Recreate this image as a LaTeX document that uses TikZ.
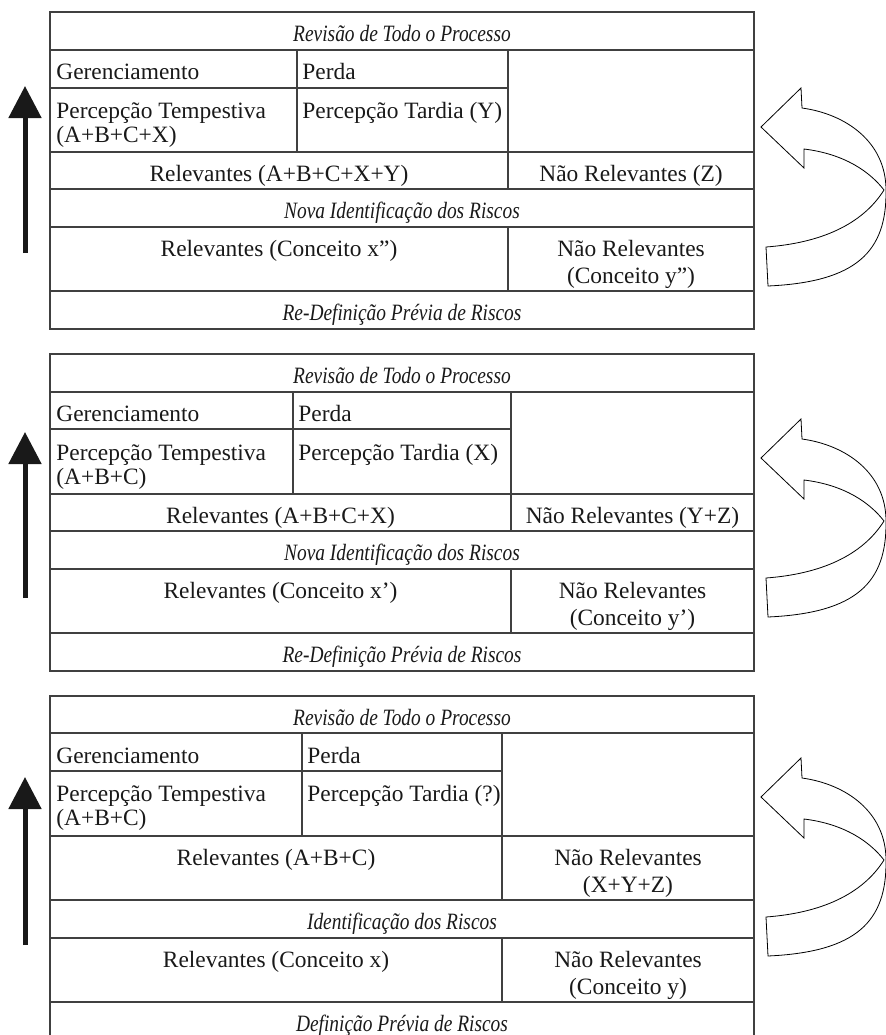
\documentclass[tikz,border=0pt]{standalone}
\usepackage{fontspec}
\setmainfont{Liberation Serif}
\newfontfamily\stagefont[FakeStretch=0.83]{Liberation Serif}
\usetikzlibrary{arrows.meta}

\begin{document}
\begin{tikzpicture}[x=0.5pt,y=-0.5pt,
  tabline/.style={draw=black!75, line width=0.55pt},
  lbl/.style={inner sep=0pt, text=black!90, font=\fontsize{11.7}{13.5}\selectfont},
  stage/.style={lbl, anchor=base, font=\fontsize{11.7}{13.5}\stagefont\itshape},
  cellL/.style={lbl, anchor=base west, align=left},
  cellC/.style={lbl, anchor=base, align=center},
  tight/.style={font=\fontsize{11.7}{12.2}\selectfont},
  riseup/.style={-{Triangle[length=16pt,width=16pt]}, line width=2.5pt, black!90},
  loopback/.style={draw=black, line width=0.4pt, fill=white, line join=miter},
  backarrow/.pic={
    \draw[loopback] (41,-19) -- (40,-39) -- (0,0) -- (43,41) -- (43,22)
      .. controls (84,27) and (109,45) .. (123,63)
      .. controls (101,98) and (59,116) .. (5,120) -- (7,159)
      .. controls (95,155) and (126,125) .. (125,63)
      .. controls (125,15) and (85,-13) .. (41,-19) -- cycle;
  }]
  \useasboundingbox (0,0) rectangle (886,1035);

  % stage 1 (base anchor of two-line cells sits on the second line)
  \draw[tabline] (50,12) rectangle (754,329);
  \draw[tabline] (50,50) -- (754,50);
  \draw[tabline] (50,88) -- (508,88);
  \draw[tabline] (50,152) -- (754,152);
  \draw[tabline] (50,189) -- (754,189);
  \draw[tabline] (50,227) -- (754,227);
  \draw[tabline] (50,291) -- (754,291);
  \draw[tabline] (297,50) -- (297,152);
  \draw[tabline] (508,50) -- (508,189);
  \draw[tabline] (508,227) -- (508,291);
  \node[stage] (rev1) at (402,41.5) {Revisão de Todo o Processo};
  \node[cellL] (ger1) at (56,79.5) {Gerenciamento};
  \node[cellL] (per1) at (302,79.5) {Perda};
  \node[cellL,tight] (tem1) at (56,142.4) {Percepção Tempestiva\\(A+B+C+X)};
  \node[cellL] (tar1) at (302,118) {Percepção Tardia (Y)};
  \node[cellC] (rel1) at (279,181.5) {Relevantes (A+B+C+X+Y)};
  \node[cellC] (nrel1) at (631,181.5) {Não Relevantes (Z)};
  \node[stage] (nid1) at (402,218.5) {Nova Identificação dos Riscos};
  \node[cellC] (rc1) at (279,256.5) {Relevantes (Conceito x”)};
  \node[cellC] (nc1) at (631,283) {Não Relevantes\\(Conceito y”)};
  \node[stage] (red1) at (402,320.5) {Re-Definição Prévia de Riscos};
  \coordinate (up1a) at (25,253);
  \coordinate (up1b) at (25,86);
  \draw[riseup] (up1a) -- (up1b);
  \pic at (761,127) {backarrow};

  % stage 2
  \draw[tabline] (50,354) rectangle (754,671);
  \draw[tabline] (50,392) -- (754,392);
  \draw[tabline] (50,429) -- (511,429);
  \draw[tabline] (50,494) -- (754,494);
  \draw[tabline] (50,531) -- (754,531);
  \draw[tabline] (50,569) -- (754,569);
  \draw[tabline] (50,633) -- (754,633);
  \draw[tabline] (293,392) -- (293,494);
  \draw[tabline] (511,392) -- (511,531);
  \draw[tabline] (511,569) -- (511,633);
  \node[stage] (rev2) at (402,383.5) {Revisão de Todo o Processo};
  \node[cellL] (ger2) at (56,421.5) {Gerenciamento};
  \node[cellL] (per2) at (298,421.5) {Perda};
  \node[cellL,tight] (tem2) at (56,484.4) {Percepção Tempestiva\\(A+B+C)};
  \node[cellL] (tar2) at (298,460) {Percepção Tardia (X)};
  \node[cellC] (rel2) at (280.5,523.5) {Relevantes (A+B+C+X)};
  \node[cellC] (nrel2) at (632.5,523.5) {Não Relevantes (Y+Z)};
  \node[stage] (nid2) at (402,560.5) {Nova Identificação dos Riscos};
  \node[cellC] (rc2) at (280.5,598.5) {Relevantes (Conceito x’)};
  \node[cellC] (nc2) at (632.5,625) {Não Relevantes\\(Conceito y’)};
  \node[stage] (red2) at (402,662.5) {Re-Definição Prévia de Riscos};
  \coordinate (up2a) at (25,598);
  \coordinate (up2b) at (25,432);
  \draw[riseup] (up2a) -- (up2b);
  \pic at (761,458) {backarrow};

  % stage 3
  \draw[tabline] (50,696) rectangle (754,1042);
  \draw[tabline] (50,733) -- (754,733);
  \draw[tabline] (50,771) -- (502,771);
  \draw[tabline] (50,836) -- (754,836);
  \draw[tabline] (50,900) -- (754,900);
  \draw[tabline] (50,938) -- (754,938);
  \draw[tabline] (50,1002) -- (754,1002);
  \draw[tabline] (302,733) -- (302,836);
  \draw[tabline] (502,733) -- (502,900);
  \draw[tabline] (502,938) -- (502,1002);
  \node[stage] (rev3) at (402,725.5) {Revisão de Todo o Processo};
  \node[cellL] (ger3) at (56,763) {Gerenciamento};
  \node[cellL] (per3) at (307,763) {Perda};
  \node[cellL,tight] (tem3) at (56,825.4) {Percepção Tempestiva\\(A+B+C)};
  \node[cellL] (tar3) at (307,801) {Percepção Tardia (?)};
  \node[cellC] (rel3) at (276,865.5) {Relevantes (A+B+C)};
  \node[cellC] (nrel3) at (628,892) {Não Relevantes\\(X+Y+Z)};
  \node[stage] (nid3) at (402,929.5) {Identificação dos Riscos};
  \node[cellC] (rc3) at (276,967.5) {Relevantes (Conceito x)};
  \node[cellC] (nc3) at (628,994) {Não Relevantes\\(Conceito y)};
  \node[stage] (red3) at (402,1031.5) {Definição Prévia de Riscos};
  \coordinate (up3a) at (25,945);
  \coordinate (up3b) at (25,777);
  \draw[riseup] (up3a) -- (up3b);
  \pic at (761,797) {backarrow};
\end{tikzpicture}
\end{document}
